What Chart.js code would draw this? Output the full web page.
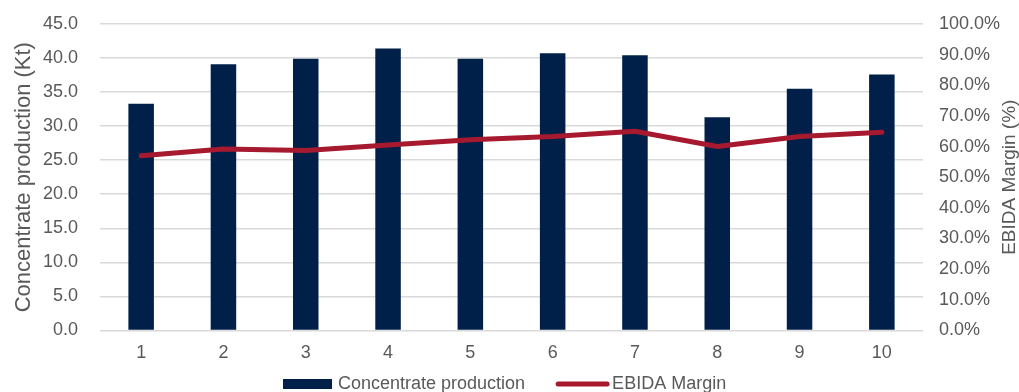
<!DOCTYPE html>
<html>
<head>
<meta charset="utf-8">
<script src="https://cdn.jsdelivr.net/npm/chart.js@4/dist/chart.umd.min.js"></script>
<style>
  html, body { margin: 0; padding: 0; background: #fff; }
  #wrap { width: 1019px; height: 392px; }
</style>
</head>
<body>
<div id="wrap"><canvas id="grafico" width="1019" height="392"></canvas></div>
<script>
// ===== Dados =====
const categorias = ["1", "2", "3", "4", "5", "6", "7", "8", "9", "10"];
const producao = [33.3, 39.1, 39.9, 41.4, 39.9, 40.7, 40.4, 31.3, 35.5, 37.6];
const margem = [57.0, 59.2, 58.7, 60.5, 62.2, 63.3, 65.0, 60.0, 63.3, 64.7];

const tituloEsq = "Concentrate production (Kt)";
const tituloDir = "EBIDA Margin (%)";
const nomeBarra = "Concentrate production";
const nomeLinha = "EBIDA Margin";

const corBarra = "#00204a";
const corLinha = "#a6192e";
const corTexto = "#595959";
const fonte = "'Liberation Sans', Arial, sans-serif";

Chart.defaults.font.family = fonte;
Chart.defaults.color = corTexto;

// título do eixo direito, lido de baixo para cima
const tituloDireita = {
  id: "tituloDireita",
  afterDraw(chart) {
    const { ctx, chartArea } = chart;
    ctx.save();
    ctx.translate(1010, (chartArea.top + chartArea.bottom) / 2);
    ctx.rotate(-Math.PI / 2);
    ctx.font = "19px " + fonte;
    ctx.fillStyle = corTexto;
    ctx.textAlign = "center";
    ctx.textBaseline = "middle";
    ctx.fillText(tituloDir, 0, 0);
    ctx.restore();
  }
};

// legenda desenhada à mão embaixo do gráfico
const legendaBaixo = {
  id: "legendaBaixo",
  afterDraw(chart) {
    const { ctx } = chart;
    const y = 384;
    let x = 283;
    ctx.save();
    ctx.font = "18px " + fonte;
    ctx.textBaseline = "middle";
    ctx.textAlign = "left";
    chart.data.datasets.forEach(ds => {
      if (ds.type === "line") {
        ctx.strokeStyle = ds.borderColor;
        ctx.lineWidth = ds.borderWidth;
        ctx.lineCap = "round";
        ctx.beginPath();
        ctx.moveTo(x + 1, y);
        ctx.lineTo(x + 50, y);
        ctx.stroke();
        x += 55;
      } else {
        ctx.fillStyle = ds.backgroundColor;
        ctx.fillRect(x, y - 5, 49, 10);
        x += 55;
      }
      ctx.fillStyle = corTexto;
      ctx.fillText(ds.label, x, y);
      x += ctx.measureText(ds.label).width + 32;
    });
    ctx.restore();
  }
};

// largura fixa dos eixos verticais e sem folga extra em cima/embaixo
const ajustaEixoY = largura => s => {
  s.width = largura;
  s.paddingTop = 0;
  s.paddingBottom = 0;
};

new Chart(document.getElementById("grafico"), {
  type: "bar",
  data: {
    labels: categorias,
    datasets: [
      {
        label: nomeBarra,
        data: producao,
        backgroundColor: corBarra,
        yAxisID: "y",
        categoryPercentage: 1,
        barPercentage: 0.31,
        order: 2
      },
      {
        type: "line",
        label: nomeLinha,
        data: margem,
        borderColor: corLinha,
        backgroundColor: corLinha,
        borderWidth: 5,
        borderCapStyle: "round",
        borderJoinStyle: "round",
        pointRadius: 0,
        tension: 0,
        yAxisID: "y1",
        order: 1
      }
    ]
  },
  options: {
    responsive: false,
    animation: false,
    devicePixelRatio: 1,
    layout: { padding: { top: 24, left: 0, right: 0, bottom: 16 } },
    plugins: {
      tooltip: { enabled: false },
      legend: { display: false }
    },
    scales: {
      x: {
        grid: { display: false, drawTicks: false },
        border: { display: false },
        ticks: { padding: 12, font: { size: 18 }, color: corTexto }
      },
      y: {
        position: "left",
        min: 0,
        max: 45,
        ticks: {
          stepSize: 5,
          padding: 22,
          font: { size: 18 },
          color: corTexto,
          callback: v => v.toFixed(1)
        },
        grid: { color: "#d9d9d9", lineWidth: 1.5, drawTicks: false },
        border: { display: false },
        title: {
          display: true,
          text: tituloEsq,
          color: corTexto,
          font: { size: 22 },
          padding: { top: 11, bottom: 0 }
        },
        afterFit: ajustaEixoY(100)
      },
      y1: {
        position: "right",
        min: 0,
        max: 100,
        ticks: {
          stepSize: 10,
          padding: 16,
          font: { size: 18 },
          color: corTexto,
          callback: v => v.toFixed(1) + "%"
        },
        grid: { drawOnChartArea: false, drawTicks: false },
        border: { display: false },
        afterFit: ajustaEixoY(96)
      }
    }
  },
  plugins: [tituloDireita, legendaBaixo]
});
</script>
</body>
</html>
